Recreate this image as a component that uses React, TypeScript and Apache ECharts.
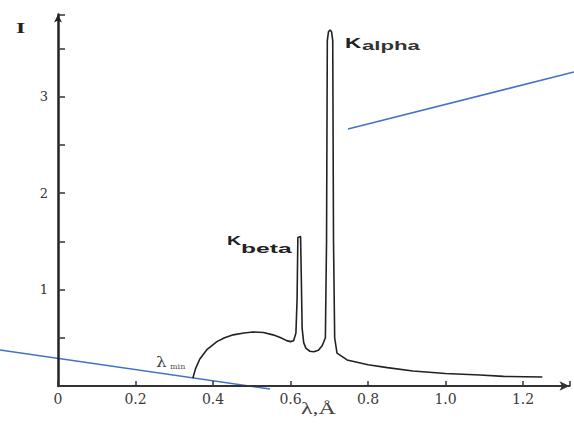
import React, { useEffect, useRef } from "react";
import * as echarts from "echarts";

// Wavelength (Å) and intensity (arbitrary units)
const wavelengths = [
  0.348, 0.355, 0.366, 0.385, 0.41, 0.43, 0.452, 0.48, 0.503, 0.53, 0.555, 0.575, 0.59, 0.6, 0.608,
  0.614, 0.617, 0.619, 0.626, 0.628, 0.63, 0.634, 0.64, 0.65, 0.66, 0.672, 0.682, 0.69,
  0.693, 0.695, 0.698, 0.702, 0.706, 0.709, 0.711, 0.714, 0.72, 0.746, 0.8, 0.85, 0.916, 1.0,
  1.089, 1.15, 1.25,
];
const intensities = [
  0.08, 0.18, 0.28, 0.38, 0.46, 0.5, 0.53, 0.55, 0.56, 0.555, 0.53, 0.5, 0.47, 0.46, 0.47,
  0.55, 0.9, 1.54, 1.55, 1.1, 0.6, 0.45, 0.39, 0.36, 0.355, 0.37, 0.42, 0.5,
  1.5, 3.58, 3.67, 3.69, 3.67, 3.58, 1.5, 0.5, 0.34, 0.27, 0.22, 0.19, 0.155, 0.13,
  0.114, 0.1, 0.093,
];
const xTickLabels = ["0", "0.2", "0.4", "0.6", "0.8", "1.0", "1.2"];
const yTickLabels = ["1", "2", "3"];

export default function App() {
  const ref = useRef<HTMLDivElement>(null);
  useEffect(() => {
    if (!ref.current) return;
    const chart = echarts.init(ref.current, null, { renderer: "svg" });
    const data = wavelengths.map((w, i) => [w, intensities[i]]);
    chart.setOption({
      animation: false,
      backgroundColor: "#ffffff",
      grid: { left: 58, right: 4.5, top: 14.5, bottom: 40, outerBoundsMode: "none", containLabel: false },
      xAxis: {
        type: "value",
        min: 0,
        max: 1.32,
        interval: 0.2,
        splitLine: { show: false },
        axisLine: {
          lineStyle: { color: "#333", width: 2 },
          symbol: ["none", "arrow"],
          symbolSize: [7, 10],
        },
        axisTick: { inside: true, length: 5, lineStyle: { color: "#333", width: 1.5 } },
        axisLabel: {
          margin: 6,
          fontFamily: "DejaVu Serif",
          fontSize: 14,
          color: "#3a3a3a",
          formatter: (v: number) => {
            const idx = Math.round(v / 0.2);
            return Math.abs(v - idx * 0.2) < 1e-6 && xTickLabels[idx] !== undefined ? xTickLabels[idx] : "";
          },
        },
      },
      yAxis: {
        type: "value",
        min: 0,
        max: 3.85,
        interval: 0.5,
        splitLine: { show: false },
        axisLine: {
          lineStyle: { color: "#222", width: 2.5 },
          symbol: ["none", "arrow"],
          symbolSize: [6, 8],
        },
        axisTick: { inside: true, length: 7, lineStyle: { color: "#333", width: 1.5 } },
        axisLabel: {
          margin: 10,
          fontFamily: "DejaVu Serif",
          fontSize: 13,
          color: "#333",
          formatter: (v: number) => {
            const s = String(Math.round(v));
            return Math.abs(v - Math.round(v)) < 1e-6 && yTickLabels.includes(s) ? s : "";
          },
        },
      },
      series: [
        {
          type: "line",
          data,
          showSymbol: false,
          symbol: "none",
          lineStyle: { color: "#222", width: 1.6 },
        },
      ],
      graphic: [
        { type: "line", shape: { x1: 348, y1: 129, x2: 574, y2: 72 }, style: { stroke: "#4472C4", lineWidth: 1.5 } },
        { type: "line", shape: { x1: 0, y1: 350, x2: 270, y2: 389 }, style: { stroke: "#4472C4", lineWidth: 1.5 } },
        { type: "text", x: 345, y: 35, scaleX: 1.5, style: { text: "K", fontFamily: "Liberation Sans", fontWeight: "bold", fontSize: 15, fill: "#222", textAlign: "left", textVerticalAlign: "top" } },
        { type: "text", x: 362, y: 40, scaleX: 1.85, style: { text: "alpha", fontFamily: "Liberation Sans", fontWeight: "bold", fontSize: 12, fill: "#333", textAlign: "left", textVerticalAlign: "top" } },
        { type: "text", x: 227, y: 234, scaleX: 1.5, style: { text: "K", fontFamily: "Liberation Sans", fontWeight: "bold", fontSize: 13, fill: "#222", textAlign: "left", textVerticalAlign: "top" } },
        { type: "text", x: 241, y: 243, scaleX: 2.05, style: { text: "beta", fontFamily: "Liberation Sans", fontWeight: "bold", fontSize: 12, fill: "#222", textAlign: "left", textVerticalAlign: "top" } },
        { type: "text", x: 156, y: 355, scaleX: 1.2, style: { text: "λ", fontFamily: "DejaVu Serif", fontSize: 14, fill: "#444", textAlign: "left", textVerticalAlign: "top" } },
        { type: "text", x: 170, y: 362, style: { text: "min", fontFamily: "DejaVu Serif", fontSize: 8, fill: "#555", textAlign: "left", textVerticalAlign: "top" } },
        { type: "text", x: 16, y: 21, scaleX: 1.7, style: { text: "I", fontFamily: "Liberation Serif", fontWeight: "bold", fontSize: 14, fill: "#222", textAlign: "left", textVerticalAlign: "top" } },
        { type: "text", x: 301, y: 401, scaleX: 1.5, style: { text: "λ,Å", fontFamily: "Liberation Serif", fontSize: 16, fill: "#444", textAlign: "left", textVerticalAlign: "top" } },
      ],
    });
    return () => chart.dispose();
  }, []);
  return <div ref={ref} style={{ width: 574, height: 426, position: "absolute", left: 0, top: 0 }} />;
}
